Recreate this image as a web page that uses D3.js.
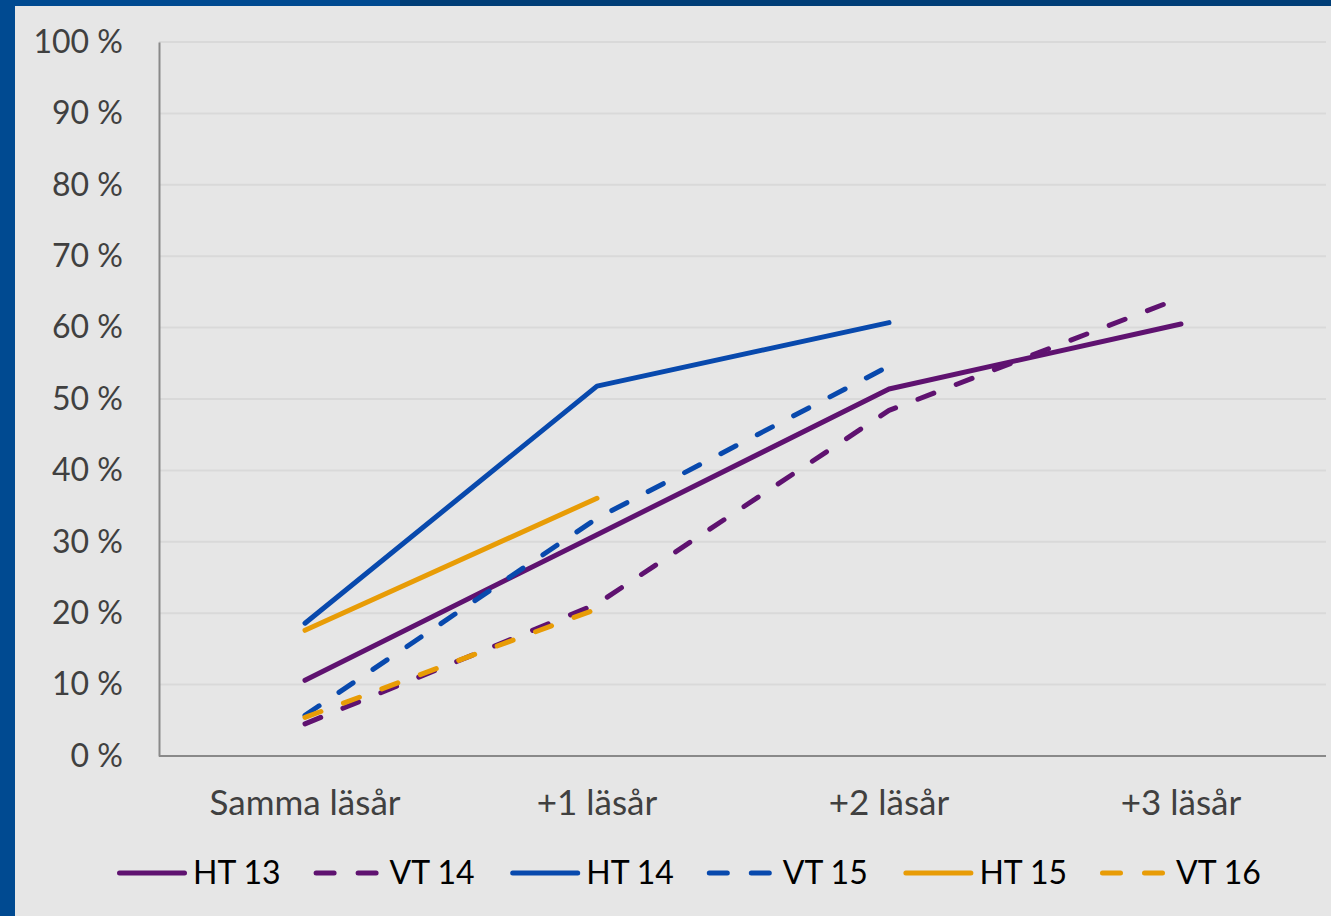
<!DOCTYPE html>
<html>
<head>
<meta charset="utf-8">
<script src="https://cdn.jsdelivr.net/npm/d3@7"></script>
<style>
  html, body { margin: 0; padding: 0; background: #e6e6e6; }
  svg { display: block; }
</style>
</head>
<body>
<div id="vis"></div>
<script>
// data (percent)
const categories = ['Samma läsår', '+1 läsår', '+2 läsår', '+3 läsår'];
const yTicks = [0, 10, 20, 30, 40, 50, 60, 70, 80, 90, 100];
const seriesNames = ['HT 13', 'VT 14', 'HT 14', 'VT 15', 'HT 15', 'VT 16'];
const ht13 = [10.6, 31.0, 51.4, 60.5];
const vt14 = [4.5, 21.3, 48.4, 64.2];
const ht14 = [18.6, 51.8, 60.7];
const vt15 = [5.7, 33.3, 54.6];
const ht15 = [17.6, 36.1];
const vt16 = [5.4, 20.6];

const purple = '#5f1270';
const blue = '#0849ad';
const orange = '#e89c06';

const series = [
  {name: seriesNames[0], values: ht13, color: purple, dashed: false},
  {name: seriesNames[1], values: vt14, color: purple, dashed: true},
  {name: seriesNames[2], values: ht14, color: blue, dashed: false},
  {name: seriesNames[3], values: vt15, color: blue, dashed: true},
  {name: seriesNames[4], values: ht15, color: orange, dashed: false},
  {name: seriesNames[5], values: vt16, color: orange, dashed: true},
];

const W = 1331;
const H = 916;
const margin = {top: 42, right: 5, bottom: 160, left: 159};

const svg = d3.select('#vis')
  .append('svg')
  .attr('width', W)
  .attr('height', H);

// background and frame
svg.append('rect').attr('width', W).attr('height', H).attr('fill', '#e6e6e6');
svg.append('rect').attr('x', 0).attr('y', 0).attr('width', 15).attr('height', H).attr('fill', '#004a91');
svg.append('rect').attr('x', 0).attr('y', 0).attr('width', 400).attr('height', 6).attr('fill', '#004a91');
svg.append('rect').attr('x', 400).attr('y', 0).attr('width', W - 400).attr('height', 6).attr('fill', '#003e77');

const x = d3.scaleBand()
  .domain(categories)
  .range([margin.left, W - margin.right + 1]);

const y = d3.scaleLinear()
  .domain([0, 100])
  .range([H - margin.bottom, margin.top]);

const font = 'Lato, Calibri, "Liberation Sans", sans-serif';

// gridlines
svg.append('g')
  .selectAll('line')
  .data(yTicks.filter((d) => d > 0))
  .enter()
  .append('line')
  .attr('x1', margin.left)
  .attr('x2', W - margin.right)
  .attr('y1', (d) => y(d))
  .attr('y2', (d) => y(d))
  .attr('stroke', '#d9d9d9')
  .attr('stroke-width', 2);

// y axis labels
const yAxis = svg.append('g')
  .attr('transform', 'translate(' + margin.left + ',0)')
  .call(d3.axisLeft(y).tickValues(yTicks).tickSize(0).tickPadding(36)
    .tickFormat((d) => d + ' %'));
yAxis.select('.domain')
  .attr('stroke', '#898989')
  .attr('stroke-width', 2);
yAxis.selectAll('text')
  .attr('font-family', font)
  .attr('font-size', 32)
  .attr('fill', '#404040');

// x axis
const xAxis = svg.append('g')
  .attr('transform', 'translate(0,' + y(0) + ')')
  .call(d3.axisBottom(x).tickSize(0));
xAxis.select('.domain')
  .attr('d', 'M' + margin.left + ',0H' + (W - margin.right))
  .attr('stroke', '#898989')
  .attr('stroke-width', 2);
xAxis.selectAll('text')
  .attr('y', 59)
  .attr('dy', 0)
  .attr('font-family', font)
  .attr('font-size', 35)
  .attr('fill', '#404040');

// lines
const line = d3.line()
  .x((d, i) => x(categories[i]) + x.bandwidth() / 2)
  .y((d) => y(d));

svg.append('g')
  .selectAll('path')
  .data(series)
  .enter()
  .append('path')
  .attr('d', (s) => line(s.values))
  .attr('fill', 'none')
  .attr('stroke', (s) => s.color)
  .attr('stroke-width', 5)
  .attr('stroke-linecap', 'round')
  .attr('stroke-linejoin', 'round')
  .attr('stroke-dasharray', (s) => s.dashed ? '17,24' : null);

// legend
const legend = svg.append('g')
  .selectAll('g')
  .data(series)
  .enter()
  .append('g')
  .attr('transform', (s, i) => 'translate(' + (117 + i * 196.6) + ',873)');

legend.append('line')
  .attr('x1', 2.5)
  .attr('x2', 67.5)
  .attr('stroke', (s) => s.color)
  .attr('stroke-width', 5)
  .attr('stroke-linecap', 'round')
  .attr('stroke-dasharray', (s) => s.dashed ? '18,24' : null);

legend.append('text')
  .attr('x', 76)
  .attr('y', 11)
  .attr('font-family', font)
  .attr('font-size', 32)
  .attr('fill', '#000')
  .text((s) => s.name);
</script>
</body>
</html>
